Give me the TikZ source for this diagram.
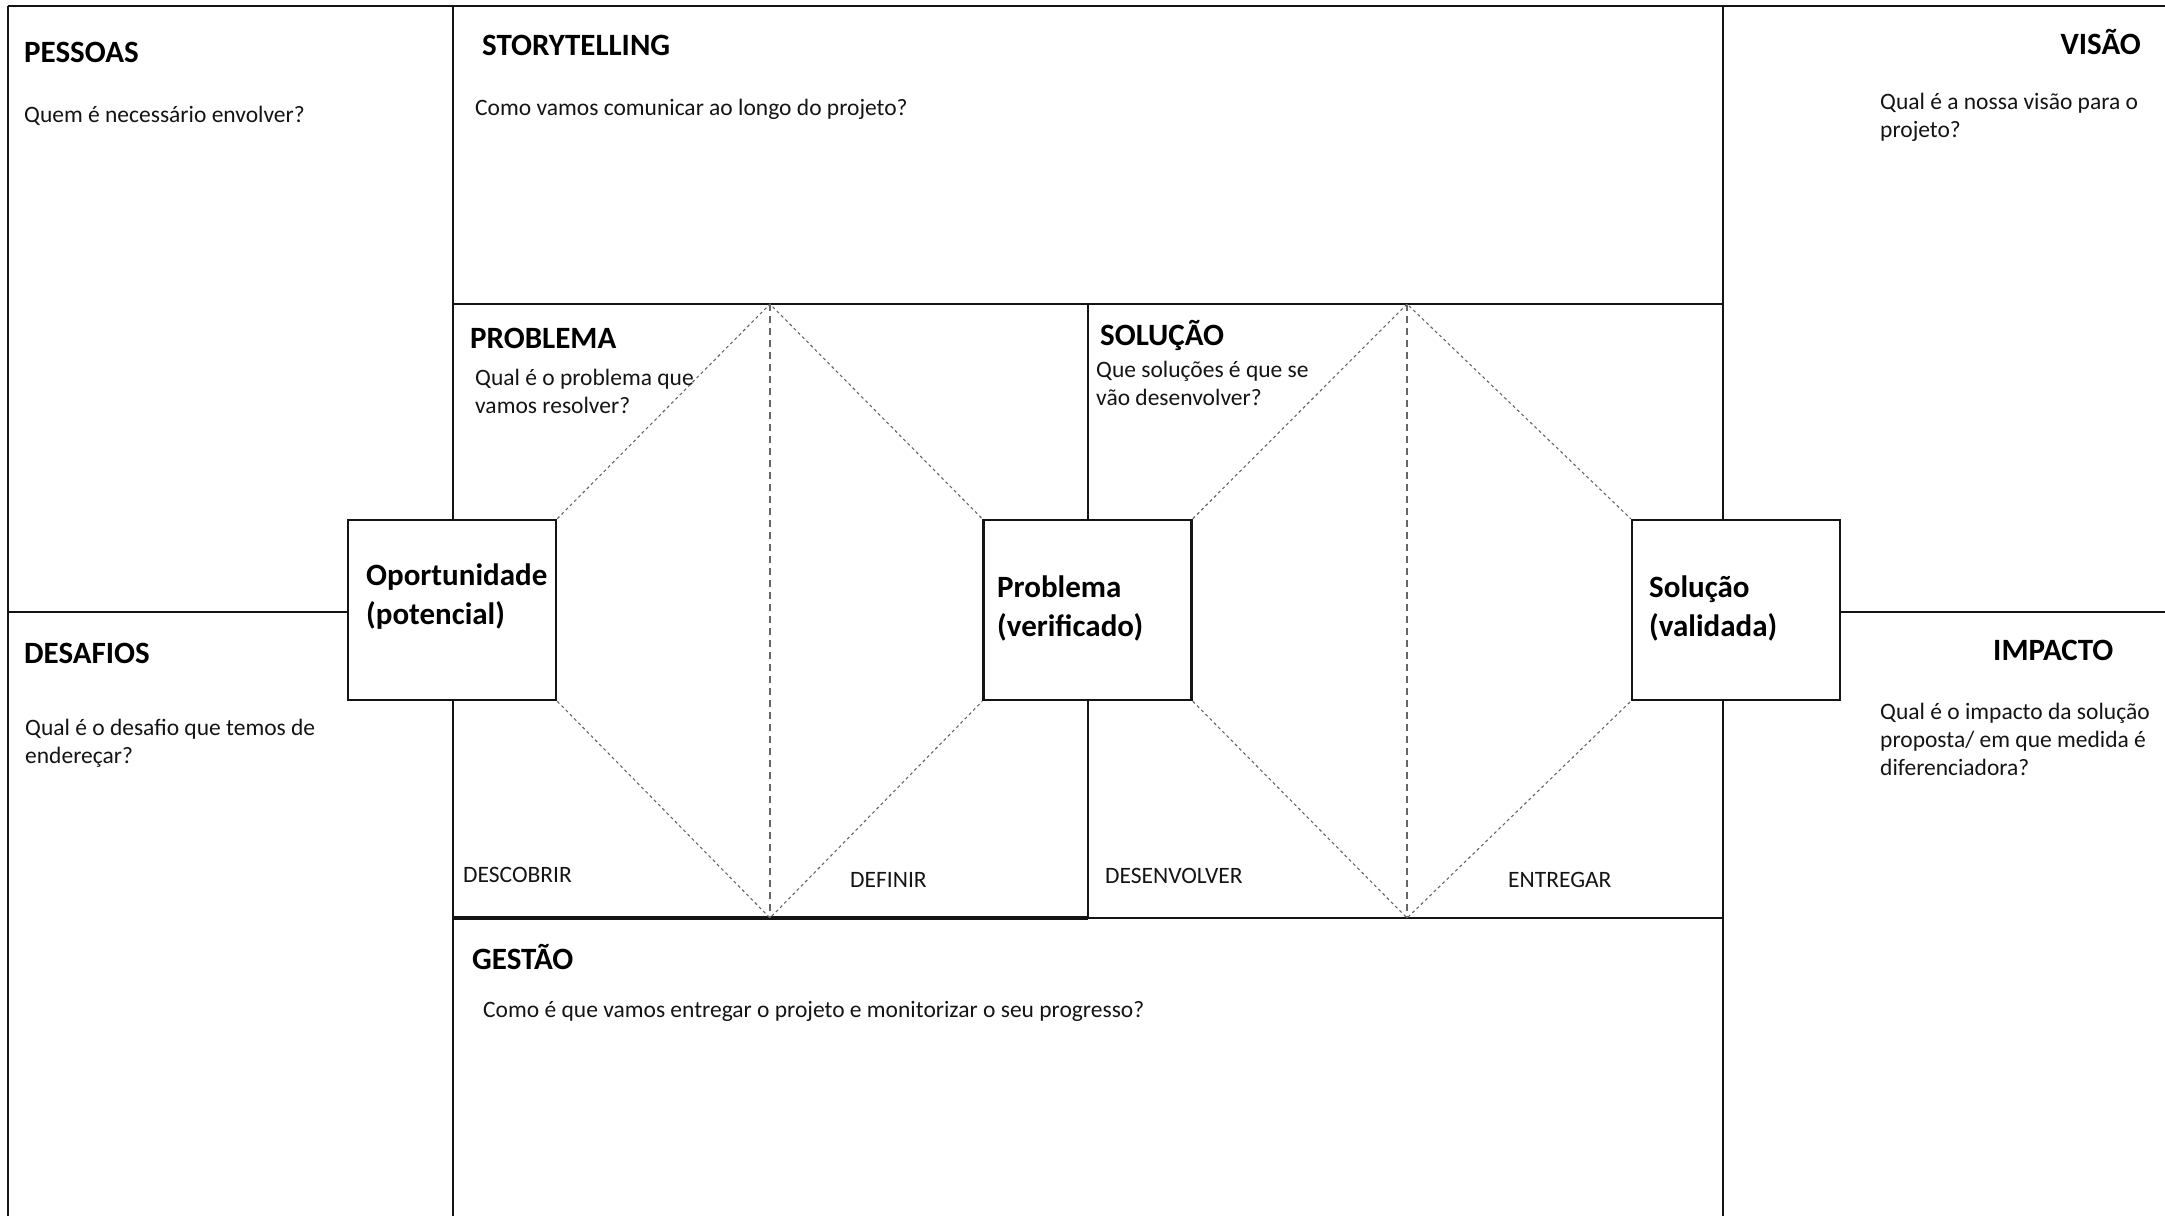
\documentclass[tikz,border=0pt]{standalone}
\usepackage{fontspec}
\setmainfont{Carlito}
\begin{document}
\begin{tikzpicture}[x=1pt,y=-1pt,
  frame/.style={line width=2.4pt, draw=black!92},
  boxst/.style={draw=black!92, line width=2.6pt, minimum width=208pt, minimum height=180pt, inner sep=0pt, fill=white},
  vdash/.style={draw=black!60, line width=1.1pt, dash pattern=on 7pt off 5pt},
  ddot/.style={draw=black!60, line width=1.1pt, dash pattern=on 3pt off 3pt},
  ttl/.style={font=\fontsize{31}{38}\selectfont\bfseries, inner sep=0pt, anchor=base west, text=black},
  bdy/.style={font=\fontsize{23.5}{29}\selectfont, inner sep=0pt, anchor=base west, text=black!92},
  blbl/.style={font=\fontsize{31}{38}\selectfont\bfseries, inner sep=0pt, anchor=base west, text=black},
]
\useasboundingbox (0,0) rectangle (2165,1216);

% coordinates of the frame
\coordinate (tl) at (8,6);
\coordinate (tr) at (2165,6);
\coordinate (bl) at (8,1216);
\coordinate (topL) at (770,304);
\coordinate (botL) at (770,918);
\coordinate (topR) at (1407,304);
\coordinate (botR) at (1407,918);

% frame lines
\draw[frame] (tl) -- (tr);
\draw[frame] (tl) -- (bl);
\draw[frame] (453,6) -- (453,520);
\draw[frame] (453,700) -- (453,1216);
\draw[frame] (1723,6) -- (1723,520);
\draw[frame] (1723,700) -- (1723,1216);
\draw[frame] (8,612) -- (348,612);
\draw[frame] (1840,612) -- (2165,612);
\draw[frame] (453,304) -- (1723,304);
\draw[frame, line width=3.2pt] (453,918) -- (1088,918);
\draw[frame] (1088,918) -- (1723,918);
\draw[frame] (1088,304) -- (1088,520);
\draw[frame] (1088,700) -- (1088,918);

% dashed verticals
\draw[vdash] (topL) -- (botL);
\draw[vdash] (topR) -- (botR);

% boxes
\node[boxst] (opp) at (452,610) {};
\node[boxst] (prob) at (1087.5,610) {};
\node[boxst] (sol) at (1736,610) {};

% diagonals
\draw[ddot] (opp.north east) -- (topL) -- (prob.north west);
\draw[ddot] (opp.south east) -- (botL) -- (prob.south west);
\draw[ddot] (prob.north east) -- (topR) -- (sol.north west);
\draw[ddot] (prob.south east) -- (botR) -- (sol.south west);

% box labels
\node[blbl] (opp1) at (366,585) {Oportunidade};
\node[blbl] (opp2) at (366,624) {(potencial)};
\node[blbl] (prob1) at (997,597) {Problema};
\node[blbl] (prob2) at (997,636) {(verificado)};
\node[blbl] (sol1) at (1649,597) {Solução};
\node[blbl] (sol2) at (1649,636) {(validada)};

% titles
\node[ttl] (pessoas) at (24,62) {PESSOAS};
\node[ttl] (story) at (482,55) {STORYTELLING};
\node[ttl, anchor=base east] (visao) at (2141,54) {VISÃO};
\node[ttl] (problema) at (470,348) {PROBLEMA};
\node[ttl] (solucao) at (1100,345) {SOLUÇÃO};
\node[ttl] (desafios) at (24,663) {DESAFIOS};
\node[ttl] (impacto) at (1993,660) {IMPACTO};
\node[ttl] (gestao) at (472,969) {GESTÃO};

% body texts
\node[bdy] (q1) at (24,122) {Quem é necessário envolver?};
\node[bdy] (q2) at (475,115) {Como vamos comunicar ao longo do projeto?};
\node[bdy] (q3a) at (1880,109) {Qual é a nossa visão para o};
\node[bdy] (q3b) at (1880,137) {projeto?};
\node[bdy] (q4a) at (475,385) {Qual é o problema que};
\node[bdy] (q4b) at (475,413) {vamos resolver?};
\node[bdy] (q5a) at (1096,377) {Que soluções é que se};
\node[bdy] (q5b) at (1096,405) {vão desenvolver?};
\node[bdy] (q6a) at (25,735) {Qual é o desafio que temos de};
\node[bdy] (q6b) at (25,763) {endereçar?};
\node[bdy] (q7a) at (1880,719) {Qual é o impacto da solução};
\node[bdy] (q7b) at (1880,747) {proposta/ em que medida é};
\node[bdy] (q7c) at (1880,775) {diferenciadora?};
\node[bdy] (q8) at (483,1017) {Como é que vamos entregar o projeto e monitorizar o seu progresso?};

% phase labels
\node[bdy] (descobrir) at (463,882) {DESCOBRIR};
\node[bdy] (definir) at (850,887) {DEFINIR};
\node[bdy] (desenvolver) at (1105,883) {DESENVOLVER};
\node[bdy] (entregar) at (1508,887) {ENTREGAR};
\end{tikzpicture}
\end{document}
